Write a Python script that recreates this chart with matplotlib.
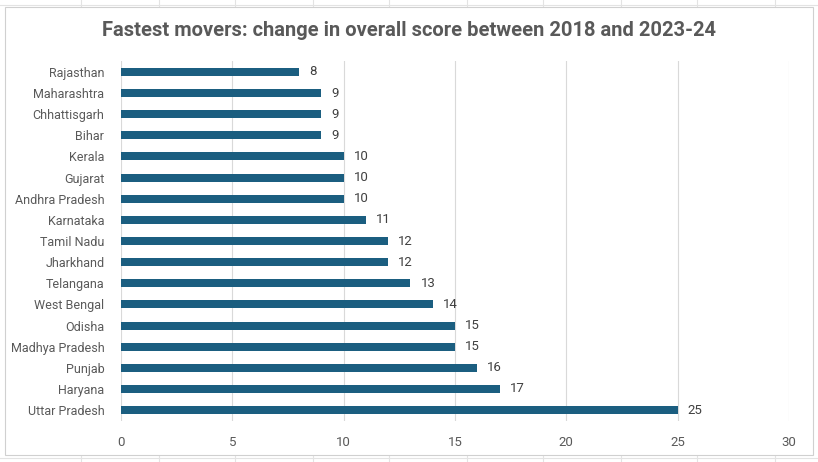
import matplotlib.pyplot as plt
from matplotlib.patches import Rectangle

# Data
states = ['Rajasthan', 'Maharashtra', 'Chhattisgarh', 'Bihar', 'Kerala', 'Gujarat',
          'Andhra Pradesh', 'Karnataka', 'Tamil Nadu', 'Jharkhand', 'Telangana',
          'West Bengal', 'Odisha', 'Madhya Pradesh', 'Punjab', 'Haryana', 'Uttar Pradesh']
change = [8, 9, 9, 9, 10, 10, 10, 11, 12, 12, 13, 14, 15, 15, 16, 17, 25]
xticks = [0, 5, 10, 15, 20, 25, 30]

plt.rcParams['font.family'] = ['Roboto', 'DejaVu Sans']
txt = '#595959'
bar_color = '#1b5e80'

fig = plt.figure(figsize=(8.18, 4.62), dpi=100)

# spreadsheet cell lines behind the chart
for x in [81, 159, 235, 313, 389, 467, 543, 621, 697, 775]:
    fig.add_artist(plt.Line2D([x / 818, x / 818], [0, 1], color='#e3e3e3', lw=0.8, zorder=0))
for y in [5, 458]:
    fig.add_artist(plt.Line2D([0, 1], [1 - y / 462, 1 - y / 462], color='#e3e3e3', lw=0.8, zorder=0))
fig.add_artist(Rectangle((5 / 818, 1 - 455 / 462), 808 / 818, 448 / 462,
                         facecolor='white', edgecolor='#d0d0d0', lw=0.8, zorder=0.5))

ax = fig.add_axes([121 / 818, 1 - 420.6 / 462, 668 / 818, 359.2 / 462])
ax.set_zorder(2)
ax.set_facecolor('none')
pos = list(range(len(states)))
ax.barh(pos, change, height=0.38, color=bar_color, zorder=3)
for p, v in zip(pos, change):
    ax.text(v + 0.45, p, str(v), va='center', ha='left', fontsize=9.5, color='#404040')

ax.set_xlim(0, 30)
ax.set_ylim(len(states) - 0.5, -0.5)
ax.set_xticks(xticks)
ax.set_yticks(pos)
ax.set_yticklabels(states)
ax.tick_params(length=0, labelsize=9.5, labelcolor=txt)
ax.tick_params(axis='x', pad=11)
ax.tick_params(axis='y', pad=12, labelsize=9)
ax.grid(axis='x', color='#d9d9d9', lw=0.8, zorder=0)
for s in ax.spines.values():
    s.set_visible(False)

fig.text(0.5, 1 - 30 / 462, 'Fastest movers: change in overall score between 2018 and 2023-24',
         ha='center', va='center', fontsize=14.5, fontweight='bold', color=txt, zorder=3)

fig.savefig('out.png', dpi=100)
